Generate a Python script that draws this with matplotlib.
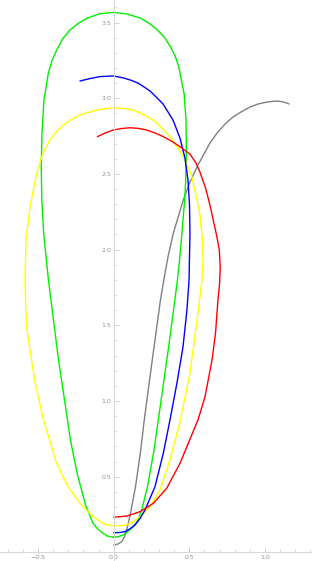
import matplotlib
matplotlib.use("Agg")
import matplotlib.pyplot as plt
from matplotlib.ticker import MultipleLocator

green_x = [-0.003, 0.032, 0.063, 0.098, 0.130, 0.159, 0.185, 0.223, 0.263, 0.295, 0.332, 0.363, 0.393,
           0.421, 0.438, 0.451, 0.469, 0.476, 0.480, 0.478, 0.465, 0.430, 0.406, 0.375, 0.336,
           0.289, 0.237, 0.180, 0.091, 0.002, -0.091, -0.178, -0.236, -0.289, -0.338, -0.377,
           -0.409, -0.432, -0.461, -0.474, -0.479, -0.475, -0.463, -0.445, -0.431, -0.404, -0.362,
           -0.325, -0.286, -0.239, -0.186, -0.137, -0.104, -0.071, -0.038, -0.003]
green_y = [0.100, 0.104, 0.115, 0.140, 0.170, 0.211, 0.280, 0.434, 0.655, 0.875, 1.139, 1.357, 1.581,
           1.799, 1.958, 2.110, 2.328, 2.460, 2.658, 2.856, 3.032, 3.208, 3.279, 3.340, 3.401,
           3.451, 3.493, 3.528, 3.556, 3.567, 3.559, 3.528, 3.493, 3.451, 3.391, 3.318,
           3.246, 3.166, 2.988, 2.770, 2.546, 2.328, 2.110, 1.931, 1.799, 1.581, 1.251,
           1.007, 0.742, 0.511, 0.313, 0.192, 0.153, 0.126, 0.106, 0.100]

yellow_x = [-0.003, 0.042, 0.086, 0.131, 0.174, 0.240, 0.306, 0.372, 0.438, 0.504, 0.557, 0.584, 0.590,
            0.587, 0.570, 0.544, 0.516, 0.490, 0.460, 0.418, 0.372, 0.319, 0.262, 0.197, 0.130,
            0.068, 0.004, -0.054, -0.112, -0.168, -0.223, -0.279, -0.333, -0.379, -0.421, -0.451,
            -0.476, -0.514, -0.553, -0.580, -0.586, -0.581, -0.573, -0.523, -0.464, -0.378, -0.302,
            -0.223, -0.137, -0.071, -0.038, -0.003]
yellow_y = [0.176, 0.176, 0.181, 0.204, 0.236, 0.302, 0.412, 0.610, 0.861, 1.185, 1.581, 1.799, 1.931,
            2.063, 2.229, 2.361, 2.481, 2.549, 2.614, 2.681, 2.746, 2.803, 2.856, 2.892, 2.922,
            2.932, 2.937, 2.932, 2.922, 2.907, 2.889, 2.859, 2.823, 2.777, 2.724, 2.671,
            2.614, 2.481, 2.281, 2.063, 1.799, 1.601, 1.469, 1.139, 0.875, 0.590, 0.434,
            0.324, 0.236, 0.192, 0.182, 0.176]

blue_x = [0.000, 0.038, 0.075, 0.108, 0.141, 0.174, 0.207, 0.273, 0.328, 0.372, 0.418, 0.458, 0.484,
          0.498, 0.504, 0.501, 0.491, 0.471, 0.438, 0.392, 0.326, 0.283, 0.240, 0.200, 0.161,
          0.114, 0.068, 0.032, -0.005, -0.091, -0.157, -0.223]
blue_y = [0.130, 0.131, 0.137, 0.156, 0.181, 0.224, 0.280, 0.434, 0.655, 0.875, 1.119, 1.357, 1.601,
          1.799, 2.110, 2.295, 2.460, 2.605, 2.737, 2.856, 2.962, 3.006, 3.048, 3.075, 3.100,
          3.119, 3.133, 3.141, 3.147, 3.143, 3.130, 3.114]

red_x = [0.000, 0.086, 0.174, 0.262, 0.350, 0.438, 0.557, 0.603, 0.650, 0.673, 0.689, 0.700, 0.704,
         0.698, 0.681, 0.636, 0.607, 0.570, 0.544, 0.504, 0.438, 0.385, 0.328, 0.273, 0.218, 0.163,
         0.108, 0.053, -0.003, -0.058, -0.108]
red_y = [0.232, 0.240, 0.269, 0.324, 0.423, 0.588, 0.875, 1.026, 1.271, 1.449, 1.667, 1.779, 1.885,
         1.997, 2.090, 2.295, 2.407, 2.513, 2.572, 2.631, 2.680, 2.715, 2.746, 2.771, 2.790, 2.801,
         2.805, 2.800, 2.790, 2.770, 2.746]

gray_x = [0.000, 0.028, 0.053, 0.071, 0.086, 0.111, 0.144, 0.176, 0.202, 0.237, 0.273, 0.309, 0.331,
          0.360, 0.394, 0.460, 0.504, 0.557, 0.636, 0.683, 0.736, 0.788, 0.841, 0.901, 0.954,
          1.013, 1.079, 1.126, 1.159]
gray_y = [0.049, 0.055, 0.071, 0.102, 0.148, 0.258, 0.434, 0.655, 0.875, 1.139, 1.403, 1.667, 1.799,
          1.958, 2.108, 2.328, 2.446, 2.559, 2.704, 2.770, 2.830, 2.876, 2.909, 2.942, 2.962,
          2.975, 2.982, 2.975, 2.962]

x_ticks = [-0.5, 0.0, 0.5, 1.0]
y_ticks = [0.5, 1.0, 1.5, 2.0, 2.5, 3.0, 3.5]

fig = plt.figure(figsize=(3.12, 5.61), dpi=100)
ax = fig.add_axes([0, 0, 1, 1])
ax.set_facecolor("white")

style = dict(lw=1.0, solid_joinstyle="round", solid_capstyle="round")
ax.plot(gray_x, gray_y, color="#808080", **style)
ax.plot(green_x, green_y, color="#00f000", **style)
ax.plot(yellow_x, yellow_y, color="#ffff00", **style)
ax.plot(blue_x, blue_y, color="#0000ff", **style)
ax.plot(red_x, red_y, color="#ff0000", **style)

ax.set_xlim(-0.7515, 1.3106)
ax.set_ylim(-0.057, 3.649)

for s in ["top", "right"]:
    ax.spines[s].set_visible(False)
ax.spines["left"].set_position(("data", 0))
ax.spines["bottom"].set_position(("data", 0))
for s in ["left", "bottom"]:
    ax.spines[s].set_color("#d8d8d8")
    ax.spines[s].set_linewidth(0.8)

ax.set_xticks(x_ticks)
ax.set_xticklabels(["\u22120.5", "0.0", "0.5", "1.0"])
ax.set_yticks(y_ticks)
ax.set_yticklabels([f"{v:.1f}" for v in y_ticks])
ax.xaxis.set_minor_locator(MultipleLocator(0.1))
ax.yaxis.set_minor_locator(MultipleLocator(0.1))
ax.tick_params(which="major", direction="in", length=3.5, width=0.6, color="#c8c8c8",
               labelsize=4.5, labelcolor="#909090", pad=2)
ax.tick_params(which="minor", direction="in", length=2, width=0.5, color="#d0d0d0")

fig.savefig("out.png", dpi=100)
